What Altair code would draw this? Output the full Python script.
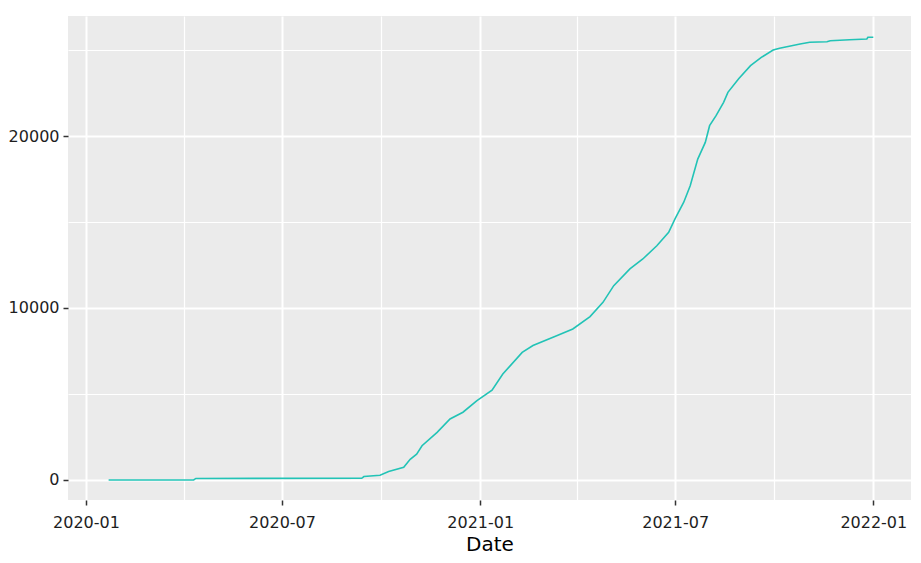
import altair as alt
import pandas as pd

dates = [
    "2020/01/22", "2020/04/10", "2020/04/12", "2020/09/13", "2020/09/15",
    "2020/09/30", "2020/10/08", "2020/10/22", "2020/10/28", "2020/11/03",
    "2020/11/08", "2020/11/22", "2020/12/04", "2020/12/16", "2020/12/29",
    "2021/01/12", "2021/01/22", "2021/02/09", "2021/02/19", "2021/03/13",
    "2021/03/28", "2021/04/13", "2021/04/25", "2021/05/05", "2021/05/20",
    "2021/06/01", "2021/06/14", "2021/06/25", "2021/07/01", "2021/07/09",
    "2021/07/15", "2021/07/22", "2021/07/29", "2021/08/02", "2021/08/08",
    "2021/08/15", "2021/08/19", "2021/08/29", "2021/09/09", "2021/09/19",
    "2021/09/30", "2021/10/06", "2021/10/25", "2021/11/03", "2021/11/19",
    "2021/11/22", "2021/12/10", "2021/12/26", "2021/12/27", "2022/01/01",
]
values = [
    0, 0, 90, 100, 200,
    280, 500, 740, 1200, 1500,
    1990, 2770, 3550, 3940, 4610,
    5220, 6160, 7420, 7820, 8390,
    8780, 9500, 10330, 11300, 12270,
    12850, 13620, 14400, 15200, 16150,
    17110, 18660, 19630, 20600, 21180,
    21960, 22540, 23330, 24090, 24570,
    25000, 25100, 25350, 25450, 25480,
    25540, 25600, 25640, 25740, 25740,
]

x_ticks = [(2020, 1), (2020, 4), (2020, 7), (2020, 10), (2021, 1),
           (2021, 4), (2021, 7), (2021, 10), (2022, 1)]
y_ticks = [0, 5000, 10000, 15000, 20000, 25000]

df = pd.DataFrame({"Date": dates, "value": values})

x_minor = "(month(datum.value) == 3 || month(datum.value) == 9)"
y_minor = "(datum.value % 10000 != 0)"

chart = alt.Chart(df).mark_line(
    color="#22C3B6", strokeWidth=1.6, interpolate="linear"
).encode(
    x=alt.X(
        "Date:T",
        scale=alt.Scale(domain=[alt.DateTime(year=2019, month=12, date=15, hours=7),
                                alt.DateTime(year=2022, month=2, date=5)]),
        axis=alt.Axis(
            values=[alt.DateTime(year=y, month=m, date=1) for y, m in x_ticks],
            labelExpr="month(datum.value) % 6 == 0 ? timeFormat(datum.value, '%Y-%m') : ''",
            title="Date",
            tickOpacity={"condition": {"test": x_minor, "value": 0}, "value": 1},
            gridWidth={"condition": {"test": x_minor, "value": 1.2}, "value": 2},
        ),
    ),
    y=alt.Y(
        "value:Q",
        scale=alt.Scale(domain=[-1163, 26977], nice=False, zero=False),
        axis=alt.Axis(
            values=y_ticks,
            labelExpr="datum.value % 10000 == 0 ? format(datum.value, 'd') : ''",
            title=None,
            tickOpacity={"condition": {"test": y_minor, "value": 0}, "value": 1},
            gridWidth={"condition": {"test": y_minor, "value": 1.2}, "value": 2},
        ),
    ),
).properties(
    width=843,
    height=484,
    autosize=alt.AutoSizeParams(type="none"),
    padding={"left": 60, "top": 8, "right": 2, "bottom": 57},
).configure_view(
    fill="#EBEBEB", stroke=None
).configure_axis(
    domain=False,
    grid=True,
    gridColor="#FFFFFF",
    tickColor="#333333",
    tickSize=5,
    tickWidth=1.5,
    labelFont="DejaVu Sans",
    labelFontSize=16,
    labelColor="#1E1E1E",
    labelPadding=4,
    titleFont="DejaVu Sans",
    titleFontSize=20,
    titleFontWeight="normal",
    titleColor="#000000",
).configure_axisX(
    labelPadding=9,
    titlePadding=4,
    labelFlush=False,
    labelOverlap=False,
).configure_axisY(
    labelOverlap=False,
)

chart.save("out.html", embed_options={"renderer": "svg", "actions": False})
